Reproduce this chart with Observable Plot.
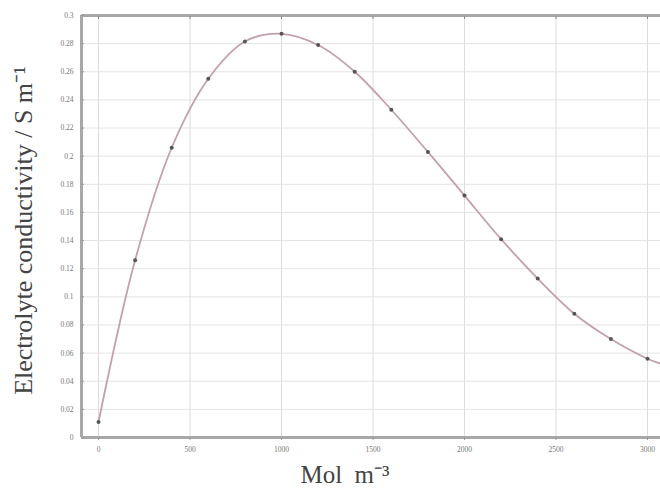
<!DOCTYPE html>
<html><head><meta charset="utf-8">
<script src="https://cdn.jsdelivr.net/npm/d3@7"></script>
<script src="https://cdn.jsdelivr.net/npm/@observablehq/plot@0.6"></script>
<style>
html,body{margin:0;padding:0;background:#fff;}
#chart{width:660px;height:488px;}
</style>
</head><body><div id="chart"></div>
<script>
const concentration = [0, 200, 400, 600, 800, 1000, 1200, 1400, 1600, 1800, 2000, 2200, 2400, 2600, 2800, 3000];
const conductivity = [0.011, 0.126, 0.206, 0.255, 0.2815, 0.287, 0.279, 0.260, 0.233, 0.203, 0.172, 0.141, 0.113, 0.088, 0.070, 0.056];
const curveX = [0, 200, 400, 600, 800, 1000, 1200, 1400, 1600, 1800, 2000, 2200, 2400, 2600, 2800, 3000, 3070];
const curveY = [0.011, 0.126, 0.206, 0.255, 0.2815, 0.287, 0.279, 0.260, 0.233, 0.203, 0.172, 0.141, 0.113, 0.088, 0.070, 0.056, 0.0525];
const xTicks = [0, 500, 1000, 1500, 2000, 2500, 3000];
const yTicks = [0, 0.02, 0.04, 0.06, 0.08, 0.1, 0.12, 0.14, 0.16, 0.18, 0.2, 0.22, 0.24, 0.26, 0.28, 0.3];
const xLabel = "Mol  m⁻³";
const yLabel = "Electrolyte conductivity / S m⁻¹";

const points = concentration.map((c, i) => ({x: c, y: conductivity[i]}));
const curve = curveX.map((c, i) => ({x: c, y: curveY[i]}));
const xMin = -93, xMax = 3071;

const chart = Plot.plot({
  width: 660,
  height: 488,
  marginLeft: 81,
  marginRight: 0,
  marginTop: 15,
  marginBottom: 51,
  style: {fontFamily: "Liberation Serif, serif", background: "#fff"},
  x: {type: "linear", domain: [xMin, xMax]},
  y: {type: "linear", domain: [0, 0.3]},
  marks: [
    Plot.gridX(xTicks, {stroke: "#dcdcdc", strokeOpacity: 1, strokeWidth: 1}),
    Plot.gridY(yTicks, {stroke: "#e4e4e4", strokeOpacity: 1, strokeWidth: 1}),
    Plot.ruleY([0.3], {stroke: "#a8a8a8", strokeWidth: 3}),
    Plot.ruleY([0], {stroke: "#a8a8a8", strokeWidth: 3}),
    Plot.ruleX([xMin], {stroke: "#a8a8a8", strokeWidth: 3}),
    Plot.axisX(xTicks, {anchor: "bottom", tickSize: 3, tickPadding: 6, fontSize: 7.5, color: "#777", stroke: "#999", tickFormat: d => String(d), label: null}),
    Plot.axisX(xTicks, {anchor: "top", tickSize: -3, tickFormat: () => "", stroke: "#888", label: null}),
    Plot.axisY(yTicks, {anchor: "left", tickSize: 0, tickPadding: 8, fontSize: 7.5, color: "#777", tickFormat: d => d === 0 ? "0" : String(+d.toFixed(2)), label: null}),
    Plot.axisY(yTicks, {anchor: "left", tickSize: -3, tickFormat: () => "", stroke: "#999", label: null}),
    Plot.line(curve, {x: "x", y: "y", curve: "catmull-rom", stroke: "#c2a0b0", strokeWidth: 1.8}),
    Plot.dot(points, {x: "x", y: "y", r: 2, fill: "#555", stroke: null}),
    Plot.text([xLabel], {frameAnchor: "bottom", lineAnchor: "bottom", dy: 45, dx: -26, fontSize: 25, fill: "#444", fontFamily: "Liberation Serif, serif"}),
    Plot.text([yLabel], {frameAnchor: "left", textAnchor: "middle", dx: -58, dy: 4, rotate: -90, fontSize: 26, fill: "#444", fontFamily: "Liberation Serif, serif"})
  ]
});
document.getElementById("chart").appendChild(chart);
</script>
</body></html>
